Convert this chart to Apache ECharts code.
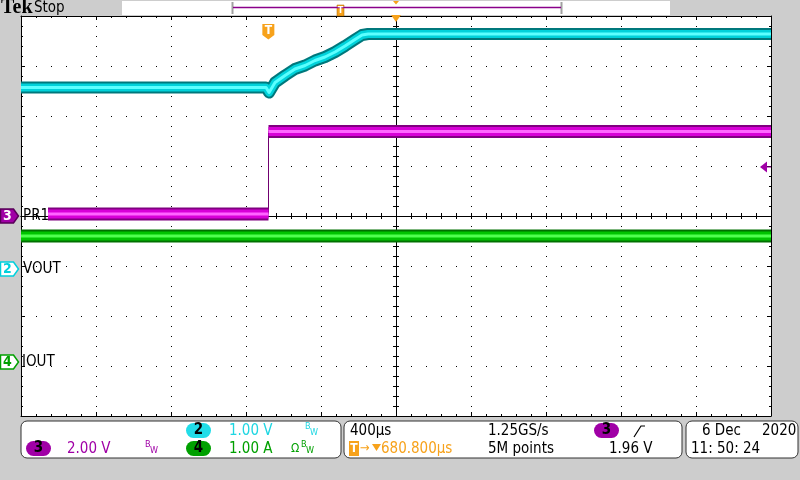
<!DOCTYPE html>
<html><head><meta charset="utf-8">
<script src="https://cdn.jsdelivr.net/npm/echarts@6/dist/echarts.min.js"></script>
<style>html,body{margin:0;padding:0;background:#cdcdcd}#c{width:800px;height:480px}</style>
</head><body><div id="c"></div><script>
// ---- time axis (µs, relative to screen centre) ----
const timeMin = -2000, timeMax = 2000, timePerDiv = 400;
const divMin = -4, divMax = 4;
const triggerTime = -680.8;     // trigger position (µs)
const triggerLevel = 1.96;      // V on ch3

// ---- channel 2 : VOUT (1.00 V/div) ----
const ch2Scale = 1.00, ch2Pos = -1.06;
const ch2Time = [-2000, -693, -677, -645, -592, -539, -485, -432, -379, -325, -272, -219, -181, -149, 2000];
const ch2Volt = [3.63, 3.63, 3.53, 3.73, 3.87, 4.00, 4.07, 4.17, 4.24, 4.34, 4.46, 4.59, 4.68, 4.70, 4.70];

// ---- channel 3 : PR1 (2.00 V/div) ----
const ch3Scale = 2.00, ch3Pos = 0;
const ch3Time = [-1856, -680, -680, 2000];
const ch3Volt = [0.08, 0.08, 3.38, 3.38];

// ---- channel 4 : IOUT (1.00 A/div) ----
const ch4Scale = 1.00, ch4Pos = -2.92;
const ch4Time = [-2000, 2000];
const ch4Amp = [2.52, 2.52];

const FONT = 'DejaVu Sans Condensed';
const G = {left: 21, top: 16, width: 750, height: 400};

function pairs(t, v) { return t.map((x, i) => [x, v[i]]); }
function breakVertical(t, v) {
  const out = [];
  t.forEach((x, i) => { if (i > 0 && x === t[i - 1]) out.push(null); out.push([x, v[i]]); });
  return out;
}
function bandSeries(name, data, yIdx, cols, widths) {
  return cols.map((c, k) => ({
    name: name, type: 'line', xAxisIndex: 0, yAxisIndex: yIdx, data: data,
    showSymbol: false, symbol: 'none', silent: true, connectNulls: false,
    lineStyle: {color: c, width: widths[k], join: 'round'}, z: 10 + k
  }));
}
function tickAxisX(grid, pos, onZero, len, split) {
  return {gridIndex: grid, type: 'value', min: timeMin, max: timeMax, interval: timePerDiv, position: pos,
    axisLine: {show: true, onZero: onZero, lineStyle: {color: '#000', width: 1}},
    axisTick: {show: true, inside: true, length: len, lineStyle: {color: '#000'}},
    minorTick: {show: true, splitNumber: 5, length: onZero ? len : 2, lineStyle: {color: '#000'}},
    axisLabel: {show: false},
    splitLine: {show: split, lineStyle: {color: '#000', width: 1, type: [1, 9]}}};
}
function tickAxisY(grid, pos, onZero, len, split) {
  return {gridIndex: grid, type: 'value', min: divMin, max: divMax, interval: 1, position: pos,
    axisLine: {show: true, onZero: onZero, lineStyle: {color: '#000', width: 1}},
    axisTick: {show: true, inside: true, length: len, lineStyle: {color: '#000'}},
    minorTick: {show: true, splitNumber: 5, length: onZero ? len : 2, lineStyle: {color: '#000'}},
    axisLabel: {show: false},
    splitLine: {show: split, lineStyle: {color: '#000', width: 1, type: [1, 14]}}};
}
function chAxis(scale, pos) {
  return {gridIndex: 0, type: 'value', show: false, min: (divMin - pos) * scale, max: (divMax - pos) * scale,
    axisLine: {onZero: false}, splitLine: {show: false}};
}

const chart = echarts.init(document.getElementById('c'), null, {renderer: 'canvas'});
chart.setOption({
  animation: false,
  backgroundColor: '#cdcdcd',
  grid: [Object.assign({show: true, backgroundColor: '#fff', borderWidth: 0}, G), Object.assign({}, G), Object.assign({}, G)],
  xAxis: [tickAxisX(0, 'bottom', false, 4, true), tickAxisX(0, 'top', false, 4, false),
          tickAxisX(1, 'bottom', true, 3, false), tickAxisX(2, 'top', true, 3, false)],
  yAxis: [tickAxisY(0, 'left', false, 4, true), tickAxisY(0, 'right', false, 4, false),
          tickAxisY(1, 'left', true, 3, false), tickAxisY(2, 'right', true, 3, false),
          chAxis(ch2Scale, ch2Pos), chAxis(ch3Scale, ch3Pos), chAxis(ch4Scale, ch4Pos)],
  series: [].concat(
    bandSeries('IOUT', pairs(ch4Time, ch4Amp), 6, ['#007000', '#00c400', '#50ff50'], [13, 9, 3]),
    [{name: 'PR1 edge', type: 'line', xAxisIndex: 0, yAxisIndex: 5, data: pairs(ch3Time, ch3Volt),
      showSymbol: false, silent: true, lineStyle: {color: '#700070', width: 1}, z: 9}],
    bandSeries('PR1', breakVertical(ch3Time, ch3Volt), 5, ['#800080', '#d800d8', '#ff66ff'], [13, 9, 3]),
    bandSeries('VOUT', pairs(ch2Time, ch2Volt), 4, ['#00787c', '#00d2da', '#5cffff'], [12, 8, 3])
  )
});

// ---- annotations placed through the axes ----
const px = t => chart.convertToPixel({xAxisIndex: 0}, t);
const py = (idx, v) => chart.convertToPixel({yAxisIndex: idx}, v);
function txt(x, y, s, color, size, o) {
  o = o || {};
  return {type: 'text', x: x, y: y, z: 100, silent: true,
    style: {text: s, fill: color, font: (o.weight || 'normal') + ' ' + size + 'px "' + (o.family || FONT) + '"',
      textAlign: o.align || 'left', align: o.align || 'left', textVerticalAlign: 'middle', verticalAlign: 'middle'}};
}
function rect(x, y, w, h, r, fill, stroke, lw) {
  return {type: 'rect', z: 90, silent: true, shape: {x: x, y: y, width: w, height: h, r: r},
    style: {fill: fill, stroke: stroke || null, lineWidth: lw || 1}};
}
function poly(points, fill, stroke, lw) {
  return {type: 'polygon', z: 95, silent: true, shape: {points: points}, style: {fill: fill, stroke: stroke || null, lineWidth: lw || 1}};
}
function line(x1, y1, x2, y2, c, w) {
  return {type: 'line', z: 95, silent: true, shape: {x1: x1, y1: y1, x2: x2, y2: y2}, style: {stroke: c, lineWidth: w || 1}};
}
function marker(y, num, col, filled) {
  return [poly([[0.5, y - 7], [13.5, y - 7], [18.5, y], [13.5, y + 7], [0.5, y + 7]], filled ? col : '#fff', filled ? '#5a005a' : col, 1.5),
          txt(7.5, y + 0.5, num, filled ? '#fff' : col, 14, {align: 'center', weight: 'bold'})];
}
function pill(x, y, num, col) {
  return [rect(x, y, 25, 15, 7.5, col), txt(x + 12.5, y + 7.5, num, '#000', 15, {align: 'center', weight: 'bold'})];
}
function bw(x, y, col) { return [txt(x, y - 3, 'B', col, 9), txt(x + 5, y + 3, 'W', col, 9)]; }

const y2 = py(4, 0), y3 = py(5, 0), y4 = py(6, 0);
const xT = px(triggerTime), xC = px(0), yLev = py(5, triggerLevel);
const ORANGE = '#f7a21b', CYAN = '#1ed6e2', MAG = '#a000a6', GREEN = '#00a000';

const g = [].concat(
  // top bar
  [txt(1, 8, 'Tek', '#000', 20, {weight: 'bold', family: 'Liberation Serif'}), txt(34, 8, 'Stop', '#000', 15),
   rect(122, 1, 548, 14, 0, '#fff'),
   line(232.5, 2, 232.5, 14, '#a0a0a0', 2), line(561.5, 2, 561.5, 14, '#a0a0a0', 2),
   line(233, 7.5, 561, 7.5, '#8a008a', 1.5),
   rect(337, 5, 7, 11, 0, ORANGE, '#a06000', 0.5), txt(340.5, 10.5, 'T', '#fff', 9, {align: 'center', weight: 'bold'}),
   poly([[393, 1], [399, 1], [396, 4.5]], ORANGE)],
  // plot overlays
  [poly([[xT - 6, 24], [xT + 6, 24], [xT + 6, 35], [xT, 39.5], [xT - 6, 35]], ORANGE),
   txt(xT, 31, 'T', '#fff', 12, {align: 'center', weight: 'bold'}),
   poly([[xC - 5, 15], [xC + 5, 15], [xC, 22]], ORANGE),
   poly([[760, yLev], [767, yLev - 5.5], [767, yLev + 5.5]], '#a000a6'),
   line(767, yLev, 771, yLev, '#a000a6', 1)],
  marker(y3, '3', MAG, true), [txt(23, y3, 'PR1', '#000', 15)],
  marker(y2, '2', '#00d0dc', false), [txt(23, y2, 'VOUT', '#000', 15)],
  marker(y4, '4', GREEN, false), [txt(22, y4, 'IOUT', '#000', 15)],
  // bottom panels
  [rect(21, 421, 320, 37, 6, '#fff', '#333', 1), rect(344, 421, 338, 37, 6, '#fff', '#333', 1),
   rect(686, 421, 112, 37, 6, '#fff', '#333', 1)],
  pill(186, 423, '2', '#22dde8'), [txt(229, 431, '1.00 V', CYAN, 15)], bw(305, 430, CYAN),
  pill(26, 441, '3', MAG), [txt(67, 449, '2.00 V', MAG, 15)], bw(145, 448, MAG),
  pill(186, 441, '4', GREEN), [txt(229, 449, '1.00 A', GREEN, 15), txt(291, 449, 'Ω', GREEN, 12)], bw(301, 448, GREEN),
  [txt(350, 431, '400µs', '#000', 15), txt(488, 431, '1.25GS/s', '#000', 15), txt(488, 449, '5M points', '#000', 15)],
  [rect(349, 441, 10, 15, 0, ORANGE), txt(354, 448.5, 'T', '#fff', 12, {align: 'center', weight: 'bold'}),
   txt(360, 449, '→', ORANGE, 13), poly([[372, 444], [381, 444], [376.5, 451]], ORANGE),
   txt(381, 449, '680.800µs', ORANGE, 15)],
  pill(594, 423, '3', MAG),
  [{type: 'polyline', z: 95, silent: true, shape: {points: [[634, 437], [641, 426], [645, 426]]}, style: {stroke: '#000', lineWidth: 1.2, fill: null}},
   txt(609, 449, '1.96 V', '#000', 15)],
  [txt(702, 431, '6 Dec', '#000', 15), txt(762, 431, '2020', '#000', 15), txt(691, 449, '11: 50: 24', '#000', 15)]
);
chart.setOption({graphic: g});
</script></body></html>
